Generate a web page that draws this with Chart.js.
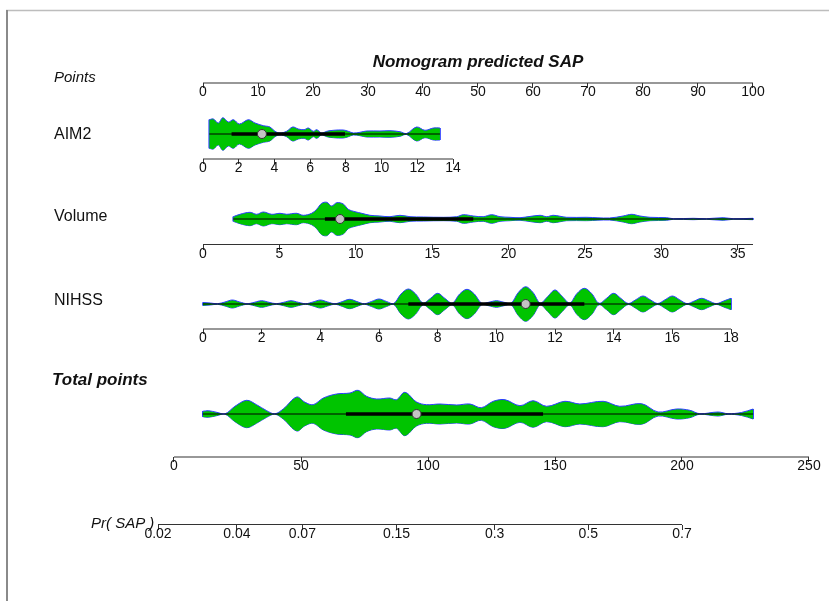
<!DOCTYPE html>
<html>
<head>
<meta charset="utf-8">
<script src="https://cdn.jsdelivr.net/npm/chart.js@4.4.1/dist/chart.umd.min.js"></script>
<style>
  html, body { margin: 0; padding: 0; background: #fff; }
  #wrap { position: relative; width: 829px; height: 601px; }
</style>
</head>
<body>
<div id="wrap"><canvas id="nomogram"></canvas></div>
<script>
// ---- tick values / labels ----
const pointsTicks = [0, 10, 20, 30, 40, 50, 60, 70, 80, 90, 100]
const aim2Ticks = [0, 2, 4, 6, 8, 10, 12, 14]
const volumeTicks = [0, 5, 10, 15, 20, 25, 30, 35]
const nihssTicks = [0, 2, 4, 6, 8, 10, 12, 14, 16, 18]
const totalTicks = [0, 50, 100, 150, 200, 250]
const prTicks = [0.02, 0.04, 0.07, 0.15, 0.3, 0.5, 0.7]
const prTickLabels = ['0.02', '0.04', '0.07', '0.15', '0.3', '0.5', '0.7']

// axis line extents
const pointsRange = [0, 100]
const aim2Range = [0, 14]
const volumeRange = [0, 36]
const nihssRange = [0, 18]
const totalRange = [0, 250]
const prRange = [0.02, 0.7]

// ---- violin densities: [value, half width] ----
const aim2Density = [
  [0.35, 14.3], [0.58, 15], [0.86, 11], [1.11, 16.3], [1.42, 12], [1.70, 14.3],
  [2.04, 10], [2.54, 14.3], [2.91, 11], [3.38, 8.3], [3.75, 7], [4.03, 2.7],
  [4.31, 1], [4.68, 2.7], [5.02, 7], [5.34, 5], [5.66, 4.3], [5.90, 6],
  [6.18, 2.7], [6.37, 4.3], [6.65, 1], [6.93, 2.7], [7.30, 3.7], [7.86, 4],
  [8.14, 2.7], [8.42, 1], [8.79, 1.7], [9.16, 3], [9.91, 3], [10.47, 3.3],
  [11.03, 2.3], [11.4, 0.5], [11.96, 7], [12.43, 3.7], [12.9, 6], [13.27, 6]
]
const volumeDensity = [
  [1.98, 2.3], [2.42, 4.7], [3.08, 6.7], [3.51, 4.7], [3.95, 7], [4.5, 4.7],
  [5.04, 5.7], [5.48, 4.7], [6.13, 5.7], [6.56, 3.7], [7.11, 5.7], [7.44, 9.7],
  [7.77, 15.7], [8.1, 16.7], [8.42, 13], [8.75, 16.3], [9.18, 15], [9.51, 9.7],
  [9.95, 7.3], [10.39, 5.7], [10.93, 3.7], [11.58, 3], [12.24, 2.3], [12.89, 3.7],
  [13.55, 2.3], [14.42, 2], [15.73, 1.7], [16.6, 2.3], [17.04, 4.3], [17.69, 3],
  [18.34, 2.3], [18.9, 4.3], [19.44, 2.3], [20.1, 1.7], [20.75, 1.3], [22.06, 3.7],
  [22.5, 2.3], [22.93, 3.7], [23.8, 1.7], [25.1, 1.7], [26.6, 1], [27.5, 3],
  [28.06, 4.7], [28.6, 3], [29.26, 1.7], [30.35, 1.3], [30.78, 0.3], [32.1, 0.7],
  [32.96, 0.3], [34.05, 1.3], [34.7, 0.3], [36.0, 0.7]
]
const nihssDensity = [
  [0, 1.5], [0.25, 1.0], [0.5, 0.3], [0.75, 2.0], [1, 4.0], [1.25, 2.0],
  [1.5, 0.3], [1.75, 1.7], [2, 3.3], [2.25, 1.7], [2.5, 0.3], [2.75, 1.7],
  [3, 3.3], [3.25, 1.7], [3.5, 0.3], [3.75, 2.0], [4, 4.0], [4.25, 2.0],
  [4.5, 0.3], [4.75, 2.4], [5, 4.7], [5.25, 2.4], [5.5, 0.3], [5.75, 2.6],
  [6, 5.0], [6.25, 2.6], [6.5, 0.5], [6.75, 10], [7, 15], [7.25, 10],
  [7.5, 1.0], [7.75, 5.5], [8, 10.7], [8.25, 5.5], [8.5, 1.0], [8.75, 10],
  [9, 14.7], [9.25, 10], [9.5, 0.8], [9.75, 1.8], [10, 3.3], [10.25, 1.8],
  [10.5, 0.8], [10.75, 11.5], [11, 17.3], [11.25, 11.5], [11.5, 1.0], [11.75, 7.5],
  [12, 14], [12.25, 7.5], [12.5, 1.0], [12.75, 10.5], [13, 15.7], [13.25, 10.5],
  [13.5, 0.8], [13.75, 5.5], [14, 10.7], [14.25, 5.5], [14.5, 0.5], [14.75, 4.2],
  [15, 8], [15.25, 4.2], [15.5, 0.5], [15.75, 4.2], [16, 8], [16.25, 4.2],
  [16.5, 0.4], [16.75, 3.0], [17, 5.7], [17.25, 3.0], [17.5, 0.4], [17.75, 3.0],
  [18, 5.7]
]
const totalDensity = [
  [11.3, 2.7], [13.5, 3.3], [16.8, 1.7], [20.1, 0.2], [24.0, 7.7], [28.6, 13.7],
  [32.5, 9.3], [36.5, 3.3], [39.7, 0.2], [43.0, 5], [48.3, 17], [51.6, 11.7],
  [54.8, 9.3], [58.8, 16], [64.0, 20], [69.3, 21], [72.5, 23.7], [75.8, 17.7],
  [79.8, 15], [85.0, 16], [87.6, 14.3], [90.9, 21.7], [95.5, 12], [99.4, 9.3],
  [104.7, 10], [111.3, 9], [116.5, 10], [121.0, 6.3], [125.7, 12.7], [130.3, 14.3],
  [136.2, 8.3], [141.4, 13.3], [146.7, 7.7], [153.9, 12.7], [159.8, 10], [169.0, 12.7],
  [175.5, 7.7], [184.1, 10.3], [190.6, 2], [197.8, 5], [203.1, 3.7], [207.0, 0.3],
  [214.2, 2], [218.1, 0.3], [223.4, 1.5], [228.0, 5]
]

// box summaries: min, q1, median, q3, max
const aim2Box = [0.35, 1.6, 3.3, 7.95, 13.27]
const volumeBox = [1.98, 7.98, 8.97, 17.69, 36.0]
const nihssBox = [0, 7, 11, 13, 18]
const totalBox = [11.3, 67.7, 95.5, 145.3, 228.0]

// ---- layout ----
const W = 829
const H = 601
const FONT = '"Liberation Sans", Arial, Helvetica, sans-serif'

// vertical positions on the y scale (0 = top)
const rowY = {
  title: 67,
  pointsAxis: 83,
  aim2Violin: 134, aim2Axis: 159,
  volumeViolin: 219, volumeAxis: 244.5,
  nihssViolin: 304, nihssAxis: 329,
  totalViolin: 414, totalAxis: 457,
  prAxis: 524.5
}

const logit = p => Math.log(p / (1 - p))

// where two values of each axis sit across the canvas
const anchors = {
  points: [[0, 203], [100, 753]],
  aim2: [[0, 203], [14, 453]],
  volume: [[0, 203], [36, 753]],
  nihss: [[0, 203], [18, 731]],
  total: [[0, 174], [250, 809]],
  pr: [[logit(0.02), 158], [logit(0.7), 682]]
}

const axisColor = '#333'
const violinFill = '#00c400'
const violinLine = '#2a3cff'

function xScale(key, axisY, tickValues, labels) {
  const [[v0, p0], [v1, p1]] = anchors[key]
  const k = (v1 - v0) / (p1 - p0)
  return {
    type: 'linear',
    axis: 'x',
    position: { y: axisY },
    min: v0 - p0 * k,
    max: v0 + (W - p0) * k,
    afterBuildTicks: (s) => { s.ticks = tickValues.map(v => ({ value: v })) },
    border: { display: false },
    grid: { drawOnChartArea: false, drawTicks: true, tickLength: 5, color: axisColor, lineWidth: 1 },
    ticks: {
      autoSkip: false,
      maxRotation: 0,
      padding: -4,
      color: '#111',
      font: { size: 14, family: FONT },
      callback: (v, i) => labels ? labels[i] : String(v)
    }
  }
}

function axisLine(key, axisY, range) {
  return {
    data: [{ x: range[0], y: axisY }, { x: range[1], y: axisY }],
    xAxisID: key,
    borderColor: axisColor,
    borderWidth: 1.2,
    pointRadius: 0,
    fill: false,
    order: 6
  }
}

function violin(key, cy, density, box) {
  const first = density[0]
  const last = density[density.length - 1]
  const [lo, q1, med, q3, hi] = box
  const outline = { xAxisID: key, borderColor: violinLine, borderWidth: 1, pointRadius: 0, tension: 0.35, order: 5 }
  const seg = (a, b, extra) => Object.assign({ data: [a, b], xAxisID: key, pointRadius: 0, fill: false, order: 5 }, extra)
  return [
    Object.assign({ data: density.map(([x, d]) => ({ x, y: cy - d })), backgroundColor: violinFill, fill: '+1' }, outline),
    Object.assign({ data: density.map(([x, d]) => ({ x, y: cy + d })), fill: false }, outline),
    seg({ x: first[0], y: cy - first[1] }, { x: first[0], y: cy + first[1] }, { borderColor: violinLine, borderWidth: 1 }),
    seg({ x: last[0], y: cy - last[1] }, { x: last[0], y: cy + last[1] }, { borderColor: violinLine, borderWidth: 1 }),
    seg({ x: lo, y: cy }, { x: hi, y: cy }, { borderColor: '#000', borderWidth: 1, order: 3 }),
    seg({ x: q1, y: cy }, { x: q3, y: cy }, { borderColor: '#000', borderWidth: 3.5, order: 2 }),
    {
      data: [{ x: med, y: cy }],
      xAxisID: key,
      showLine: false,
      pointRadius: 4.5,
      pointBackgroundColor: '#c4c4c4',
      pointBorderColor: '#333',
      pointBorderWidth: 1,
      order: 1
    }
  ]
}

// row captions and title
const textItems = [
  { text: 'Nomogram predicted SAP', font: `italic bold 17px ${FONT}`, scale: 'points', value: 50, y: rowY.title, align: 'center' },
  { text: 'Points', font: `italic 15px ${FONT}`, x: 54, y: 82 },
  { text: 'AIM2', font: `16px ${FONT}`, x: 54, y: 139 },
  { text: 'Volume', font: `16px ${FONT}`, x: 54, y: 221 },
  { text: 'NIHSS', font: `16px ${FONT}`, x: 54, y: 305 },
  { text: 'Total points', font: `italic bold 17px ${FONT}`, x: 52, y: 385 },
  { text: 'Pr( SAP )', font: `italic 15px ${FONT}`, x: 91, y: 528 }
]

const nomogramText = {
  id: 'nomogramText',
  beforeDraw(chart) {
    const { ctx } = chart
    ctx.save()
    ctx.strokeStyle = '#bdbdbd'
    ctx.lineWidth = 1.5
    ctx.beginPath()
    ctx.moveTo(6, 10.5)
    ctx.lineTo(W, 10.5)
    ctx.stroke()
    ctx.strokeStyle = '#8a8a8a'
    ctx.lineWidth = 2
    ctx.beginPath()
    ctx.moveTo(7, 10)
    ctx.lineTo(7, H)
    ctx.stroke()
    ctx.restore()
  },
  afterDraw(chart) {
    const { ctx, scales } = chart
    ctx.save()
    ctx.fillStyle = '#111'
    ctx.textBaseline = 'alphabetic'
    for (const t of textItems) {
      ctx.font = t.font
      ctx.textAlign = t.align || 'left'
      const x = t.scale ? scales[t.scale].getPixelForValue(t.value) : t.x
      ctx.fillText(t.text, x, scales.y.getPixelForValue(t.y))
    }
    ctx.restore()
  }
}

const datasets = [
  axisLine('points', rowY.pointsAxis, pointsRange),
  axisLine('aim2', rowY.aim2Axis, aim2Range),
  axisLine('volume', rowY.volumeAxis, volumeRange),
  axisLine('nihss', rowY.nihssAxis, nihssRange),
  axisLine('total', rowY.totalAxis, totalRange),
  axisLine('pr', rowY.prAxis, prRange.map(logit)),
  ...violin('aim2', rowY.aim2Violin, aim2Density, aim2Box),
  ...violin('volume', rowY.volumeViolin, volumeDensity, volumeBox),
  ...violin('nihss', rowY.nihssViolin, nihssDensity, nihssBox),
  ...violin('total', rowY.totalViolin, totalDensity, totalBox)
]

new Chart(document.getElementById('nomogram'), {
  type: 'line',
  data: { datasets },
  options: {
    responsive: true,
    maintainAspectRatio: false,
    animation: false,
    events: [],
    // keep the plot area on the full canvas so the axis anchors hold
    layout: { padding: 0, autoPadding: false },
    scales: {
      y: { type: 'linear', min: 0, max: H, reverse: true, display: false },
      points: xScale('points', rowY.pointsAxis, pointsTicks),
      aim2: xScale('aim2', rowY.aim2Axis, aim2Ticks),
      volume: xScale('volume', rowY.volumeAxis, volumeTicks),
      nihss: xScale('nihss', rowY.nihssAxis, nihssTicks),
      total: xScale('total', rowY.totalAxis, totalTicks),
      pr: xScale('pr', rowY.prAxis, prTicks.map(logit), prTickLabels)
    },
    plugins: {
      legend: { display: false },
      tooltip: { enabled: false }
    }
  },
  plugins: [nomogramText]
})
</script>
</body>
</html>
